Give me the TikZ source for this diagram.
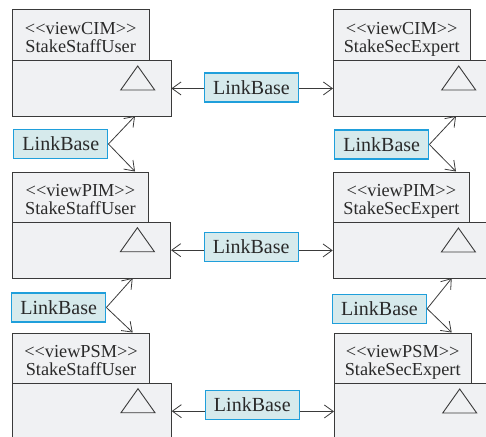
\documentclass[tikz,border=0pt]{standalone}
\usepackage{fontspec}
\setmainfont{Liberation Serif}
\usetikzlibrary{arrows.meta}
\definecolor{pkgfill}{HTML}{F0F1F3}
\definecolor{pkgline}{HTML}{3A3A3A}
\definecolor{lbfill}{HTML}{D6EAEC}
\definecolor{lbline}{HTML}{1F9FDB}
\definecolor{txt}{HTML}{2A2A2A}
\tikzset{
  tabbox/.style={draw=pkgline, fill=pkgfill, line width=0.9pt, anchor=north west,
    minimum width=136.5pt, minimum height=50pt, inner sep=0pt},
  tabtxt/.style={anchor=base, inner sep=0pt, text=txt, font=\fontsize{18.3}{18.7}\selectfont},
  bodybox/.style={draw=pkgline, fill=pkgfill, line width=0.9pt, anchor=north west,
    minimum width=158.5pt, minimum height=56pt, inner sep=0pt},
  tri/.style={draw=pkgline, line width=0.9pt},
  lbbox/.style={draw=lbline, fill=lbfill, line width=1.3pt, minimum width=94pt,
    minimum height=29pt, inner sep=0pt, text=txt, font=\fontsize{20}{22}\selectfont},
  arr/.style={draw=pkgline, line width=0.8pt, -{Straight Barb[length=9pt,width=13pt,line width=0.8pt]}}
}
\newcommand{\pkgtri}[1]{\draw[tri] ([xshift=108.7pt,yshift=-30pt]#1.north west) -- ++(34pt,0pt) -- ++(-17pt,24pt) -- cycle;}
% \pkgtab{name}{stereotype}{class}
\newcommand{\pkgtab}[3]{%
  \node[tabtxt] (#1s) at ([yshift=-24.7pt]#1.north) {<\kern0pt<#2>\kern0pt>};
  \node[tabtxt] (#1n) at ([yshift=-43.2pt]#1.north) {#3};}
\begin{document}
\begin{tikzpicture}[x=1pt,y=-1pt]
\useasboundingbox (0,0) rectangle (486,436);
\clip (0,0) rectangle (486,436);
% row 1
\node[tabbox] (t1) at (12,9.5) {};
\pkgtab{t1}{viewCIM}{StakeStaffUser}
\node[bodybox] (b1) at (12,60) {};
\pkgtri{b1}
\node[tabbox] (t2) at (333,9.5) {};
\pkgtab{t2}{viewCIM}{StakeSecExpert}
\node[bodybox] (b2) at (333,60) {};
\pkgtri{b2}
% row 2
\node[tabbox] (t3) at (11.7,171.7) {};
\pkgtab{t3}{viewPIM}{StakeStaffUser}
\node[bodybox] (b3) at (11.7,221.7) {};
\pkgtri{b3}
\node[tabbox] (t4) at (332.7,171.7) {};
\pkgtab{t4}{viewPIM}{StakeSecExpert}
\node[bodybox] (b4) at (332.7,222) {};
\pkgtri{b4}
% row 3
\node[tabbox] (t5) at (12.3,332.7) {};
\pkgtab{t5}{viewPSM}{StakeStaffUser}
\node[bodybox] (b5) at (12.3,382.7) {};
\pkgtri{b5}
\node[tabbox] (t6) at (334,332.7) {};
\pkgtab{t6}{viewPSM}{StakeSecExpert}
\node[bodybox] (b6) at (334,383) {};
\pkgtri{b6}
% horizontal links
\node[lbbox] (h1) at (251.5,87.5) {LinkBase};
\node[lbbox] (h2) at (251.2,246.7) {LinkBase};
\node[lbbox] (h3) at (252.3,404.7) {LinkBase};
\draw[arr] (h1.west |- b1.east) -- (b1.east);
\draw[arr] (h1.east |- b2.west) -- (b2.west);
\draw[arr] (h2.west |- b3.east) -- (b3.east);
\draw[arr] (h2.east |- b4.west) -- (b4.west);
\draw[arr] (h3.west |- b5.east) -- (b5.east);
\draw[arr] (h3.east |- b6.west) -- (b6.west);
% vertical links
\node[lbbox] (v1) at (60.8,144) {LinkBase};
\node[lbbox] (v2) at (381.7,144.5) {LinkBase};
\node[lbbox] (v3) at (58.7,307.5) {LinkBase};
\node[lbbox] (v4) at (379.5,308.7) {LinkBase};
\coordinate (p1a) at (135,116);
\coordinate (p1b) at (135,171.5);
\coordinate (p2a) at (456,116);
\coordinate (p2b) at (456,171.5);
\coordinate (p3a) at (132.7,278);
\coordinate (p3b) at (132.7,332.5);
\coordinate (p4a) at (451.7,278.2);
\coordinate (p4b) at (451.7,332.5);
\draw[arr] (v1.east) -- (p1a);
\draw[arr] (v1.east) -- (p1b);
\draw[arr] (v2.east) -- (p2a);
\draw[arr] (v2.east) -- (p2b);
\draw[arr] (v3.east) -- (p3a);
\draw[arr] (v3.east) -- (p3b);
\draw[arr] (v4.east) -- (p4a);
\draw[arr] (v4.east) -- (p4b);
\end{tikzpicture}
\end{document}
